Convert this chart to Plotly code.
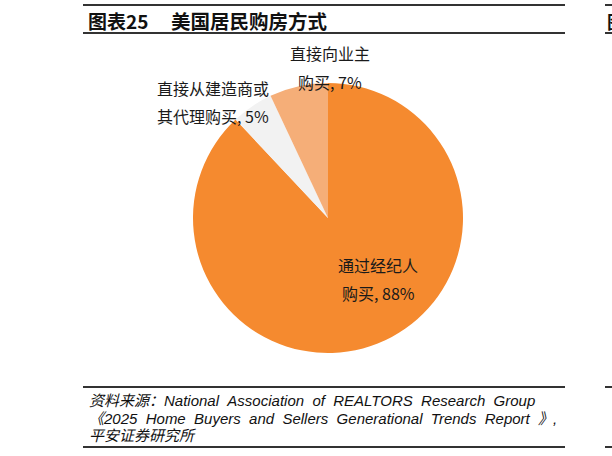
import plotly.graph_objects as go

W, H = 612, 456

labels = ["通过经纪人购买", "直接从建造商或其代理购买", "直接向业主购买"]
values = [88, 5, 7]
colors = ["#F58A2F", "#F2F2F2", "#F5AE78"]
label_lines = [["通过经纪人", "购买, 88%"], ["直接从建造商或", "其代理购买, 5%"], ["直接向业主", "购买, 7%"]]

title_no = "图表25"
title_text = "美国居民购房方式"
source_lines = [
    "资料来源：National Association of REALTORS Research Group",
    "《2025 Home Buyers and Sellers Generational Trends Report 》,",
    "平安证券研究所",
]

def px(x):
    return x / W

def py(y):
    return 1 - y / H

cx, cy, r = 328, 218, 135

fig = go.Figure(go.Pie(
    labels=labels,
    values=values,
    sort=False,
    direction="clockwise",
    rotation=0,
    marker=dict(colors=colors, line=dict(width=0)),
    textinfo="none",
    hoverinfo="label+percent",
    domain=dict(x=[px(cx - r), px(cx + r)], y=[py(cy + r), py(cy - r)]),
    showlegend=False,
))

CJK = "Noto Sans CJK SC"
annotations = []
# pie labels
label_pos = [(378, 265, 293), (213, 88, 116), (330, 53, 82)]
for (lx, y1, y2), lines in zip(label_pos, label_lines):
    for yy, t in zip((y1, y2), lines):
        annotations.append(dict(x=px(lx), y=py(yy), xref="paper", yref="paper",
                                text=t, showarrow=False, xanchor="center", yanchor="middle",
                                font=dict(family=CJK, size=16, color="#1a1a1a")))

# title
annotations.append(dict(x=px(86), y=py(21), xref="paper", yref="paper", text="<b>" + title_no + "</b>",
                        showarrow=False, xanchor="left", yanchor="middle",
                        font=dict(family=CJK, size=19, color="#111")))
annotations.append(dict(x=px(169), y=py(21), xref="paper", yref="paper", text="<b>" + title_text + "</b>",
                        showarrow=False, xanchor="left", yanchor="middle",
                        font=dict(family=CJK, size=19.5, color="#111")))
# next-panel fragment
annotations.append(dict(x=px(605), y=py(21), xref="paper", yref="paper", text="<b>图</b>",
                        showarrow=False, xanchor="left", yanchor="middle",
                        font=dict(family=CJK, size=18, color="#111")))

# source (justified-looking word spacing)
for yy, t in zip((400, 418, 435), source_lines):
    t = t.replace(" ", " \u00a0")
    annotations.append(dict(x=px(87), y=py(yy), xref="paper", yref="paper",
                            text="<i>" + t + "</i>", showarrow=False, xanchor="left", yanchor="middle",
                            font=dict(family="Liberation Sans, " + CJK, size=15, color="#111")))

shapes = []
for (x0, x1) in [(83, 565), (605, 612)]:
    for yy, w in [(5, 2), (33, 2), (387, 2), (447, 2)]:
        shapes.append(dict(type="line", xref="paper", yref="paper",
                           x0=px(x0), x1=px(x1), y0=py(yy), y1=py(yy),
                           line=dict(color="#333", width=w)))

fig.update_layout(
    width=W, height=H,
    margin=dict(l=0, r=0, t=0, b=0),
    paper_bgcolor="white", plot_bgcolor="white",
    annotations=annotations, shapes=shapes,
)

fig.write_html("out.html", config={"displayModeBar": False},
               post_script="document.body.style.margin='0px';")
